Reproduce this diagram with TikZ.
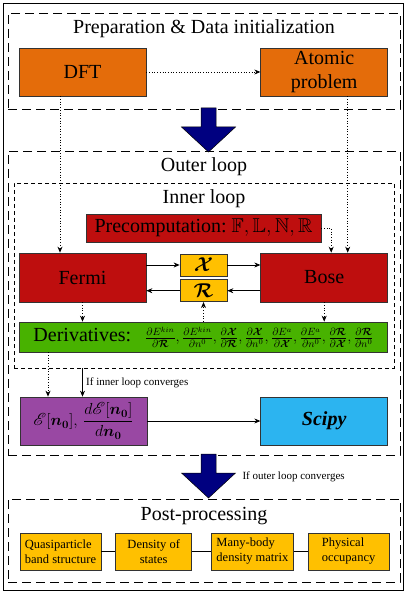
\RequirePackage{fix-cm}
\documentclass[tikz,border=0pt]{standalone}
\usepackage{amsmath,amssymb}
\usepackage{mathrsfs}
\usepackage{fontspec}
\setmainfont{Liberation Serif}
\usetikzlibrary{positioning,arrows.meta}
\definecolor{prepcol}{RGB}{228,108,10}
\definecolor{loopred}{RGB}{190,14,14}
\definecolor{linkyel}{RGB}{255,192,0}
\definecolor{dergreen}{RGB}{72,178,0}
\definecolor{enpurple}{RGB}{153,72,163}
\definecolor{scipyblue}{RGB}{44,180,240}
\definecolor{bignavy}{RGB}{0,0,128}
\tikzset{bigarrow/.pic={
  \filldraw[fill=bignavy, draw=black, line width=0.5pt]
    (-7.5,0) -- (7.5,0) -- (7.5,19) -- (27,19) -- (0,44) -- (-27,19) -- (-7.5,19) -- cycle;}}
\newcommand{\bR}{\boldsymbol{\mathcal{R}}}
\newcommand{\bX}{\boldsymbol{\mathcal{X}}}
\newcommand{\nz}{\boldsymbol{n_0}}

\begin{document}
\begin{tikzpicture}[x=1pt, y=-1pt,
  box/.style={rectangle, draw=black!80, line width=0.7pt, inner sep=1pt, align=center,
              minimum width=127pt, minimum height=48pt, font=\fontsize{20}{24}\selectfont},
  prepbox/.style={box, fill=prepcol},
  loopbox/.style={box, fill=loopred},
  linkbox/.style={box, fill=linkyel, minimum width=47pt, minimum height=22pt},
  derbox/.style={box, fill=dergreen, minimum width=368pt, minimum height=30pt},
  postbox/.style={box, fill=linkyel, minimum height=37pt, font=\fontsize{12.5}{15}\selectfont},
  frame/.style={draw, dash pattern=on 9pt off 5pt, line width=0.8pt},
  innerframe/.style={draw, dash pattern=on 4pt off 3pt, line width=0.8pt},
  title/.style={anchor=base, font=\fontsize{20}{24}\selectfont},
  note/.style={font=\fontsize{11}{13}\selectfont},
  arr/.style={-{Stealth[length=6pt, width=5pt]}, line width=0.7pt},
  darr/.style={arr, dotted},
]
  \useasboundingbox (0,0) rectangle (407,593);

  % ---- Frames ----
  \node[draw, line width=0.7pt, minimum width=400pt, minimum height=587pt] (all) at (203,296.5) {};
  \node[frame, minimum width=392pt, minimum height=96pt] (prep) at (204,61) {};
  \node[frame, minimum width=392pt, minimum height=304pt] (outer) at (204,303) {};
  \node[innerframe, minimum width=380pt, minimum height=185pt] (inner) at (204,275.5) {};
  \node[frame, minimum width=392pt, minimum height=83pt] (post) at (204,540.5) {};

  % ---- Preparation ----
  \node[title] (preptitle) at (204,34) {Preparation \& Data initialization};
  \node[prepbox] (dft) at (82.5,72) {DFT};
  \node[prepbox, right=114pt of dft] (atomic) {Atomic\\problem};

  % ---- Outer and inner loop ----
  \node[title] (outertitle) at (204,172) {Outer loop};
  \node[title] (innertitle) at (204,204) {Inner loop};
  \node[box, fill=loopred, minimum width=235pt, minimum height=28pt] (pre) at (203.5,228)
      {Precomputation:\ $\mathbb{F},\mathbb{L},\mathbb{N},\mathbb{R}$};
  \node[loopbox, minimum height=49pt] (fermi) at (82.5,277.5) {Fermi};
  \node[loopbox, minimum height=49pt, right=114pt of fermi] (bose) {Bose};
  \node[linkbox] (chi) at (203.5,265) {$\bX$};
  \node[linkbox, below=3pt of chi] (rr) {$\bR$};
  \node[derbox] (deriv) at (203.5,337)
      {Derivatives:\hspace{14pt}{\fontsize{15}{18}\selectfont$\frac{\partial E^{kin}}{\partial \bR},
       \frac{\partial E^{kin}}{\partial n^0},
       \frac{\partial \bX}{\partial \bR},
       \frac{\partial \bX}{\partial n^0},
       \frac{\partial E^{a}}{\partial \bX},
       \frac{\partial E^{a}}{\partial n^0},
       \frac{\partial \bR}{\partial \bX},
       \frac{\partial \bR}{\partial n^0}$}};
  \node[box, fill=enpurple, font=\fontsize{16}{19}\selectfont] (en) at (83.5,421)
      {$\mathscr{E}[\nz],\,\dfrac{d\mathscr{E}[\nz]}{d\nz}$};
  \node[box, fill=scipyblue, right=113pt of en] (scipy) {\textbf{\textit{Scipy}}};

  % ---- Post-processing ----
  \node[title] (posttitle) at (204,520) {Post-processing};
  \node[postbox, minimum width=81pt, align=left] (band) at (60.5,551.5) {Quasiparticle\\band structure};
  \node[postbox, minimum width=76pt, right=14pt of band] (dos) {Density of\\states};
  \node[postbox, minimum width=82pt, align=left, right=19pt of dos] (dm) {Many-body\\density matrix};
  \node[postbox, minimum width=81pt, align=left, right=14pt of dm] (occ) {Physical\\occupancy};

  % ---- Big arrows ----
  \pic at (208.5,108) {bigarrow};
  \pic at (208.5,454) {bigarrow};
  \node[note, anchor=west] (outerconv) at (239,477) {If outer loop converges};

  % ---- Preparation arrows ----
  \draw[darr] (dft) -- (atomic);
  \draw[darr] ([xshift=-22.5]dft.south) -- ([xshift=-22.5]fermi.north);
  \draw[darr] ([xshift=23.5]atomic.south) -- ([xshift=23.5]bose.north);
  \draw[darr] (pre.east) -| ([xshift=7]bose.north);

  % ---- Inner loop arrows ----
  \draw[arr] (fermi.east |- chi) -- (chi.west);
  \draw[arr] (chi.east) -- (bose.west |- chi);
  \draw[arr] (bose.west |- rr) -- (rr.east);
  \draw[arr] (rr.west) -- (fermi.east |- rr);
  \draw[darr] (fermi.south) -- (fermi.south |- deriv.north);
  \draw[darr] (bose.south) -- (bose.south |- deriv.north);
  \draw[darr] (deriv.north -| rr.south) -- (rr.south);

  % ---- Outer loop arrows ----
  \draw[darr] ([xshift=-35.5]deriv.south -| en.north) -- ([xshift=-35.5]en.north);
  \draw[arr] (inner.south -| fermi.south) -- node[right, note]{If inner loop converges} (en.north -| fermi.south);
  \draw[arr] (en) -- (scipy);

  % ---- Post-processing links ----
  \draw[line width=0.7pt] (band) -- (dos);
  \draw[line width=0.7pt] (dos) -- (dm);
  \draw[line width=0.7pt] (dm) -- (occ);
\end{tikzpicture}
\end{document}
